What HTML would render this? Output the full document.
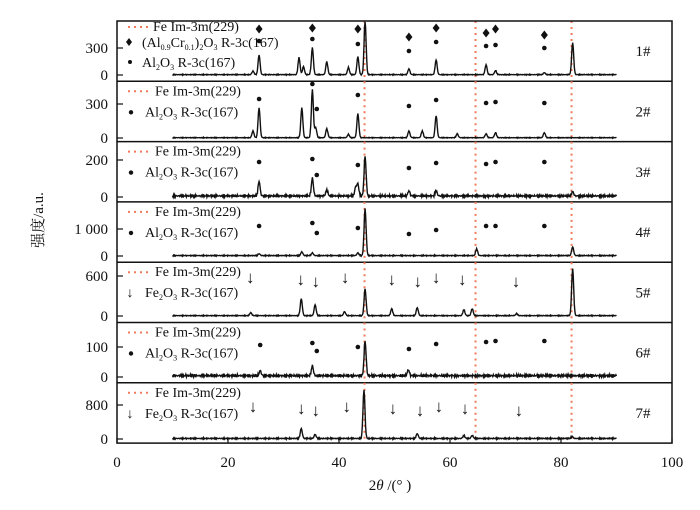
<!DOCTYPE html>
<html><head><meta charset="utf-8"><style>
body{margin:0;background:#fff;}
svg text{font-family:"Liberation Serif","Noto Serif CJK SC",serif;fill:#111;}
</style></head><body>
<svg id="chart" width="700" height="505" xmlns="http://www.w3.org/2000/svg"></svg>
<script>
const xTicks=[0,20,40,60,80,100];
const feLines=[44.6,64.6,81.9];
const panelLabels=["1#","2#","3#","4#","5#","6#","7#"];
const tickValues=[300,300,200,1000,600,100,800];
const tickLabels=["300","300","200","1 000","600","100","800"];
const noiseAmp=[0.6,0.5,1.8,0.7,0.6,2.2,0.9];
const peaks1=[[25.6,220],[24.5,40],[32.8,190],[33.6,90],[35.2,300],[37.8,145],[41.7,80],[43.4,200],[44.7,610],[52.6,65],[57.5,165],[66.5,110],[68.2,45],[77,22],[82.1,355]];
const peaks2=[[24.5,60],[25.6,265],[33.3,265],[35.2,425],[35.8,90],[37.8,80],[41.7,30],[43.4,212],[52.6,60],[55,60],[57.5,195],[61.3,35],[66.5,35],[68.2,45],[77,45]];
const peaks3=[[25.6,80],[35.2,97],[37.8,34],[43,45],[43.4,63],[44.7,217],[52.6,28],[57.5,28],[82.1,23]];
const peaks4=[[25.6,70],[33.3,140],[35.2,100],[43.4,100],[44.7,1750],[64.8,250],[82.1,320]];
const peaks5=[[24.1,45],[33.2,255],[35.7,165],[41,60],[44.7,405],[49.5,105],[54.1,120],[62.5,90],[64,105],[72,30],[82.1,705]];
const peaks6=[[25.8,17],[35.2,33],[44.7,117],[52.5,20]];
const peaks7=[[33.2,235],[35.7,95],[44.5,1150],[54.1,115],[62.5,70],[64,70],[82,45]];
const allPeaks=[peaks1,peaks2,peaks3,peaks4,peaks5,peaks6,peaks7];
const diamond1=[[25.6,29],[35.2,28],[43.4,29],[52.6,37],[57.5,28],[66.5,33],[68.2,29],[77,35]];
const dots=[
 [[25.6,41],[35.2,39],[43.4,44],[52.6,51],[57.5,42],[66.5,46],[68.2,45],[77,48]],
 [[25.6,99],[35.2,84],[36,109],[43.4,95],[52.6,106],[57.5,100],[66.5,103],[68.2,102],[77,103]],
 [[25.6,162],[35.2,159],[36,175],[43.4,165],[52.6,168],[57.5,163],[66.5,164],[68.2,162],[77,162]],
 [[25.6,226],[35.2,223],[36,233],[43.4,228],[52.6,234],[57.5,230],[66.5,226],[68.2,226],[77,226]],
 [],
 [[25.8,345],[35.2,343],[36,351],[43.4,347],[52.6,349],[57.5,344],[66.5,342],[68.2,341],[77,341]],
 []];
const arrows5=[24,33.1,35.8,41.1,49.5,54.2,57.5,62.2,71.9];
const arrows7=[24.5,33.2,35.8,41.4,49.7,54.6,58,62.7,72.4];

const svg=document.getElementById('chart');
const NS='http://www.w3.org/2000/svg';
const L=117,R=672,TOP=21,PH=60.3;
const panelTop=i=>TOP+PH*i;
const tickYs=[48,104,160,229,276,347,405];
const baseYs=[75,138,197,256,316,377,439];
const xs=v=>117+v*5.55;
function el(t,a,p){const e=document.createElementNS(NS,t);for(const k in a)e.setAttribute(k,a[k]);(p||svg).appendChild(e);return e;}

for(let i=0;i<7;i++){
  const g=el('g',{});
  
  
  const y0=panelTop(i),y1=panelTop(i+1);
  const sc=(baseYs[i]-tickYs[i])/tickValues[i];
  for(const f of feLines){
    const l=el('line',{x1:xs(f),x2:xs(f),y1:y0,y2:y1,stroke:'#f07a5a','stroke-width':2,'stroke-dasharray':'2,4'},g);
    
    
  }
  const pk=allPeaks[i];let d='';
  for(let t=10;t<=90.001;t+=0.1){
    let v=0;
    for(const [c,h] of pk){const w=0.18;v+=h*Math.exp(-((t-c)*(t-c))/(2*w*w));}
    let y=baseYs[i]-v*sc;
    const n=noiseAmp[i]*(Math.sin(t*91.7)+Math.sin(t*37.3+1)*0.8+Math.sin(t*173.1)*0.6)/2.4;
    y+=n-noiseAmp[i]*0.6;
    y=Math.max(y,y0+1);
    d+=(d?'L':'M')+xs(t).toFixed(1)+','+y.toFixed(1);
  }
  const p=el('path',{d:d,fill:'none',stroke:'#111','stroke-width':1.4},g);
  
  
  for(const [v,lab] of [[0,'0'],[tickValues[i],tickLabels[i]]]){
    const y=baseYs[i]-v*sc;
    el('line',{x1:L,x2:L+6,y1:y,y2:y,stroke:'#111','stroke-width':1.2},g);
    const tx=el('text',{x:108,y:y+5,'text-anchor':'end','font-size':15},g);tx.textContent=lab;
    
    
  }
  const pl=el('text',{x:643,y:(y0+y1)/2+5,'text-anchor':'middle','font-size':15},g);pl.textContent=panelLabels[i];
  
  
  for(const [t,y] of dots[i]){const c=el('circle',{cx:xs(t),cy:y,r:2.3,fill:'#111'},g);
    
    }
  if(i===0)for(const [t,y] of diamond1){const x=xs(t);const q=el('path',{d:`M${x},${y-4.5}L${x+3.5},${y}L${x},${y+4.5}L${x-3.5},${y}Z`,fill:'#111'},g);
    
    }
  const arr=i===4?arrows5:i===6?arrows7:[];
  const ay=i===4?285:414;
  arr.forEach((t,k)=>{const x=xs(t);const yy=ay+((k%3)-1)*2;
    const a=el('text',{x:x,y:yy,'text-anchor':'middle','font-size':17,'font-family':'DejaVu Sans'},g);a.textContent='↓';
    
    });
  const lg=el('g',{},g);
  
  
  const ly=y0+(i===0?10:14);
  el('line',{x1:128,x2:152,y1:ly-4,y2:ly-4,stroke:'#f07a5a','stroke-width':2,'stroke-dasharray':'2,4'},lg);
  const t1=el('text',{x:i===0?153:155,y:ly,'font-size':14},lg);t1.textContent='Fe Im-3m(229)';
  if(i===0){
    el('path',{d:'M129,38L132,42L129,46L126,42Z',fill:'#111'},lg);
    const t2=el('text',{x:142,y:47,'font-size':14},lg);
    t2.innerHTML='(Al<tspan font-size="8" dy="3">0.9</tspan><tspan dy="-3">Cr</tspan><tspan font-size="8" dy="3">0.1</tspan><tspan dy="-3">)</tspan><tspan font-size="8" dy="3">2</tspan><tspan dy="-3">O</tspan><tspan font-size="8" dy="3">3</tspan><tspan dy="-3"> R-3c(167)</tspan>';
    el('circle',{cx:130,cy:62,r:2,fill:'#111'},lg);
    const t3=el('text',{x:142,y:67,'font-size':14},lg);
    t3.innerHTML='Al<tspan font-size="8" dy="3">2</tspan><tspan dy="-3">O</tspan><tspan font-size="8" dy="3">3</tspan><tspan dy="-3"> R-3c(167)</tspan>';
  } else {
    const fe=(i===4||i===6);
    const yy=ly+21;
    if(fe){const a=el('text',{x:130,y:yy,'text-anchor':'middle','font-size':14,'font-family':'DejaVu Sans'},lg);a.textContent='↓';}
    else el('circle',{cx:131,cy:yy-4,r:2.2,fill:'#111'},lg);
    const t3=el('text',{x:145,y:yy,'font-size':14},lg);
    t3.innerHTML=(fe?'Fe':'Al')+'<tspan font-size="8" dy="3">2</tspan><tspan dy="-3">O</tspan><tspan font-size="8" dy="3">3</tspan><tspan dy="-3"> R-3c(167)</tspan>';
  }
  if(i<6)el('line',{x1:L,x2:R,y1:y1,y2:y1,stroke:'#111','stroke-width':1.5},g);
}
const fr=el('rect',{x:L,y:TOP,width:R-L,height:PH*7,fill:'none',stroke:'#111','stroke-width':1.5});


const bot=TOP+PH*7;
for(const v of xTicks){
  el('line',{x1:xs(v),x2:xs(v),y1:bot,y2:bot-5,stroke:'#111','stroke-width':1.2});
  const t=el('text',{x:xs(v),y:bot+24,'text-anchor':'middle','font-size':15});t.textContent=v;
  
  
}
const xt=el('text',{x:390,y:490,'text-anchor':'middle','font-size':15});
xt.innerHTML='2<tspan font-style="italic">θ</tspan> /(°  )';


const yt=el('text',{x:0,y:0,'text-anchor':'middle','font-size':15,transform:'translate(43,220) rotate(-90)'});
yt.textContent='强度/a.u.';


</script>
</body></html>
